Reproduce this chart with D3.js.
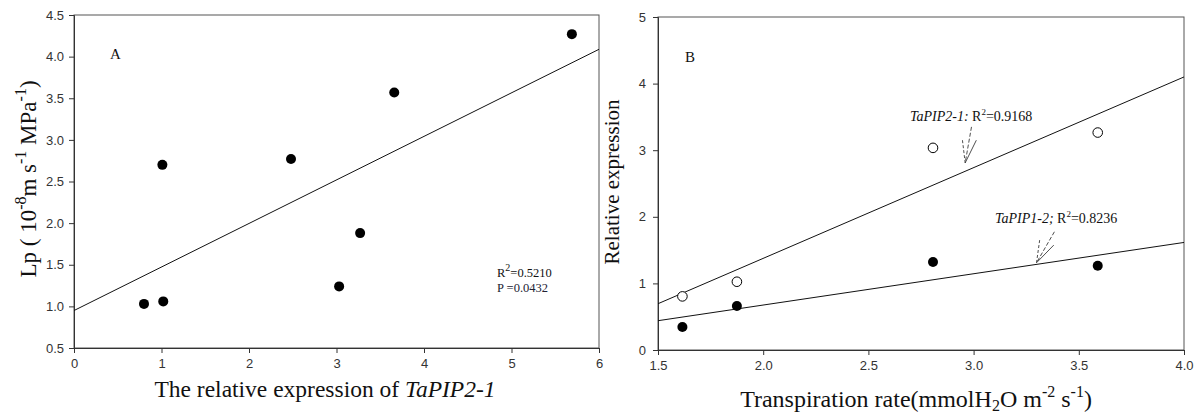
<!DOCTYPE html>
<html>
<head>
<meta charset="utf-8">
<script src="https://cdn.jsdelivr.net/npm/d3@7"></script>
<style>
  body { margin: 0; background: #fff; }
  .tick text { font-family: "Liberation Sans", Arial, sans-serif; font-size: 13px; fill: #333; }
  .tick line { stroke: #333; }
  .domain { stroke: #333; }
  .title { font-family: "Liberation Serif", "Times New Roman", serif; fill: #111; }
</style>
</head>
<body>
<svg id="vis" width="1200" height="416"></svg>
<script>
// panel A: Lp vs relative expression of TaPIP2-1
var aExpr = [0.80, 1.02, 1.01, 2.48, 3.03, 3.27, 3.66, 5.69];
var aLp = [1.03, 1.06, 2.70, 2.77, 1.24, 1.88, 3.57, 4.27];
var aFit = [0.95, 0.523]; // intercept, slope
var aXTicks = [0, 1, 2, 3, 4, 5, 6];
var aYTicks = [0.5, 1.0, 1.5, 2.0, 2.5, 3.0, 3.5, 4.0, 4.5];

// panel B: relative expression vs transpiration rate
var bRate = [1.616, 1.875, 2.807, 3.59];
var pip21 = [0.805, 1.025, 3.035, 3.265];
var pip12 = [0.345, 0.66, 1.32, 1.265];
var pip21Fit = [-1.348, 1.362]; // intercept, slope
var pip12Fit = [-0.265, 0.47];
var bXTicks = [1.5, 2.0, 2.5, 3.0, 3.5, 4.0];
var bYTicks = [0, 1, 2, 3, 4, 5];

var svg = d3.select('#vis');

// ---------- panel A ----------
var xA = d3.scaleLinear().domain([0, 6]).range([74, 599]);
var yA = d3.scaleLinear().domain([0.5, 4.5]).range([348, 15]);

drawFrame(xA, yA);

svg.append('g')
    .attr('transform', 'translate(0,' + yA(0.5) + ')')
    .call(d3.axisBottom(xA).tickValues(aXTicks).tickFormat(d3.format('d')).tickSizeOuter(0).tickSize(5).tickPadding(6));

svg.append('g')
    .attr('transform', 'translate(' + xA(0) + ',0)')
    .call(d3.axisLeft(yA).tickValues(aYTicks).tickFormat(d3.format('.1f')).tickSizeOuter(0).tickSize(5).tickPadding(5));

fitLine(xA, yA, aFit, 0, 6);

svg.append('g').selectAll('circle')
    .data(aExpr.map(function(d, i){ return {x: d, y: aLp[i]}; }))
    .enter().append('circle')
    .attr('cx', function(d){ return xA(d.x); })
    .attr('cy', function(d){ return yA(d.y); })
    .attr('r', 5)
    .attr('fill', '#000');

svg.append('text').attr('class', 'title')
    .attr('x', 110).attr('y', 59)
    .style('font-size', '15px')
    .text('A');

var stats = svg.append('text').attr('class', 'title')
    .attr('x', 497).attr('y', 277)
    .style('font-size', '12.5px');
stats.append('tspan').text('R');
stats.append('tspan').attr('dy', -6).style('font-size', '10px').text('2');
stats.append('tspan').attr('dy', 6).text('=0.5210');
svg.append('text').attr('class', 'title')
    .attr('x', 497).attr('y', 292)
    .style('font-size', '12.5px').style('fill', '#223')
    .text('P =0.0432');

var xtA = svg.append('text').attr('class', 'title')
    .attr('x', 325).attr('y', 397)
    .style('font-size', '23.5px')
    .style('text-anchor', 'middle');
xtA.append('tspan').text('The relative expression of ');
xtA.append('tspan').style('font-style', 'italic').text('TaPIP2-1');

var ytA = svg.append('text').attr('class', 'title')
    .attr('transform', 'translate(36,' + 179 + ') rotate(-90)')
    .style('font-size', '23px')
    .style('text-anchor', 'middle');
ytA.append('tspan').text('Lp ( 10');
ytA.append('tspan').attr('dy', -10).style('font-size', '16px').text('-8');
ytA.append('tspan').attr('dy', 10).text('m s');
ytA.append('tspan').attr('dy', -10).style('font-size', '16px').text('-1');
ytA.append('tspan').attr('dy', 10).text(' MPa');
ytA.append('tspan').attr('dy', -10).style('font-size', '16px').text('-1');
ytA.append('tspan').attr('dy', 10).text(')');

// ---------- panel B ----------
var xB = d3.scaleLinear().domain([1.5, 4.0]).range([658, 1184]);
var yB = d3.scaleLinear().domain([0, 5]).range([350, 17]);

drawFrame(xB, yB);

svg.append('g')
    .attr('transform', 'translate(0,' + yB(0) + ')')
    .call(d3.axisBottom(xB).tickValues(bXTicks).tickFormat(d3.format('.1f')).tickSizeOuter(0).tickSize(5).tickPadding(6));

svg.append('g')
    .attr('transform', 'translate(' + xB(1.5) + ',0)')
    .call(d3.axisLeft(yB).tickValues(bYTicks).tickFormat(d3.format('d')).tickSizeOuter(0).tickSize(5).tickPadding(7));

fitLine(xB, yB, pip21Fit, 1.5, 4.0);
fitLine(xB, yB, pip12Fit, 1.5, 4.0);

svg.append('g').selectAll('circle')
    .data(bRate.map(function(d, i){ return {x: d, y: pip21[i]}; }))
    .enter().append('circle')
    .attr('cx', function(d){ return xB(d.x); })
    .attr('cy', function(d){ return yB(d.y); })
    .attr('r', 4.8)
    .attr('fill', '#fff')
    .attr('stroke', '#000')
    .attr('stroke-width', 1);

svg.append('g').selectAll('circle')
    .data(bRate.map(function(d, i){ return {x: d, y: pip12[i]}; }))
    .enter().append('circle')
    .attr('cx', function(d){ return xB(d.x); })
    .attr('cy', function(d){ return yB(d.y); })
    .attr('r', 5)
    .attr('fill', '#000');

svg.append('text').attr('class', 'title')
    .attr('x', 685).attr('y', 62)
    .style('font-size', '15px')
    .text('B');

geneLabel('TaPIP2-1: ', '0.9168', 910, 121);
geneLabel('TaPIP1-2; ', '0.8236', 995, 223);

arrow([2.99, 3.35], [2.96, 2.81], [2.947, 3.15], [3.013, 3.15]);
arrow([3.384, 1.775], [3.299, 1.31], [3.314, 1.65], [3.381, 1.575]);

var xtB = svg.append('text').attr('class', 'title')
    .attr('x', 916).attr('y', 407)
    .style('font-size', '24px')
    .style('text-anchor', 'middle');
xtB.append('tspan').text('Transpiration rate(mmolH');
xtB.append('tspan').attr('dy', 4).style('font-size', '16px').text('2');
xtB.append('tspan').attr('dy', -4).text('O m');
xtB.append('tspan').attr('dy', -10).style('font-size', '16px').text('-2');
xtB.append('tspan').attr('dy', 10).text(' s');
xtB.append('tspan').attr('dy', -10).style('font-size', '16px').text('-1');
xtB.append('tspan').attr('dy', 10).text(')');

svg.append('text').attr('class', 'title')
    .attr('transform', 'translate(619,' + 182 + ') rotate(-90)')
    .style('font-size', '21px')
    .style('text-anchor', 'middle')
    .text('Relative expression');


function drawFrame(x, y){
    var xd = x.domain(), yd = y.domain();
    svg.append('rect')
        .attr('x', x(xd[0])).attr('y', y(yd[1]))
        .attr('width', x(xd[1]) - x(xd[0]))
        .attr('height', y(yd[0]) - y(yd[1]))
        .attr('fill', 'none')
        .attr('stroke', '#555')
        .attr('stroke-width', 1);
}

function fitLine(x, y, fit, x0, x1){
    svg.append('line')
        .attr('x1', x(x0)).attr('y1', y(fit[0] + fit[1] * x0))
        .attr('x2', x(x1)).attr('y2', y(fit[0] + fit[1] * x1))
        .attr('stroke', '#111')
        .attr('stroke-width', 1);
}

function geneLabel(gene, r2, px, py){
    var t = svg.append('text').attr('class', 'title')
        .attr('x', px).attr('y', py)
        .style('font-size', '14px');
    t.append('tspan').style('font-style', 'italic').text(gene);
    t.append('tspan').text('R');
    t.append('tspan').attr('dy', -6).style('font-size', '9px').text('2');
    t.append('tspan').attr('dy', 6).text('=' + r2);
}

function arrow(top, tip, left, right){
    svg.append('line')
        .attr('x1', xB(top[0])).attr('y1', yB(top[1]))
        .attr('x2', xB(tip[0])).attr('y2', yB(tip[1]))
        .attr('stroke', '#222').attr('stroke-width', 0.8)
        .attr('stroke-dasharray', '4,2');
    svg.append('line')
        .attr('x1', xB(left[0])).attr('y1', yB(left[1]))
        .attr('x2', xB(tip[0])).attr('y2', yB(tip[1]))
        .attr('stroke', '#222').attr('stroke-width', 0.8)
        .attr('stroke-dasharray', '3,2');
    svg.append('line')
        .attr('x1', xB(right[0])).attr('y1', yB(right[1]))
        .attr('x2', xB(tip[0])).attr('y2', yB(tip[1]))
        .attr('stroke', '#222').attr('stroke-width', 0.8);
}
</script>
</body>
</html>
